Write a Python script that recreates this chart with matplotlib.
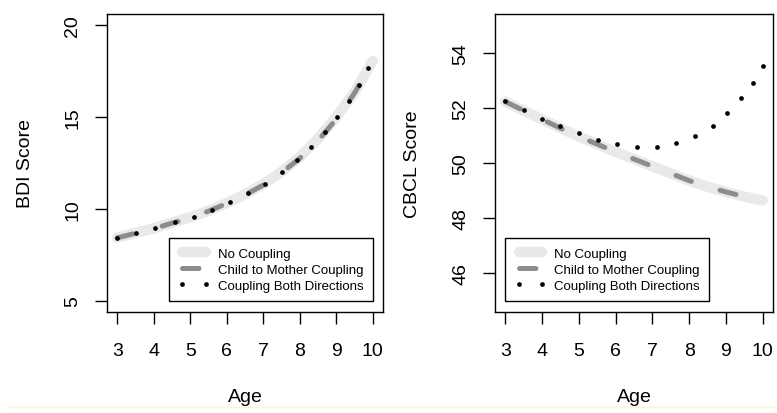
import matplotlib
matplotlib.use('Agg')
import matplotlib.pyplot as plt
from matplotlib.lines import Line2D

plt.rcParams['font.family'] = ['Liberation Sans', 'DejaVu Sans']

########### data ###########
age = [3, 3.5, 4, 4.5, 5, 5.5, 6, 6.5, 7, 7.5, 8, 8.5, 9, 9.5, 10]

bdi_none = [8.45, 8.70, 8.95, 9.25, 9.55, 9.90, 10.32, 10.80, 11.35, 12.02, 12.82, 13.82, 15.00, 16.35, 18.05]
bdi_child = [8.43, 8.68, 8.93, 9.23, 9.52, 9.88, 10.30, 10.76, 11.30, 11.97, 12.75, 13.72, 14.88, 16.30, 18.00]

cbcl_none = [52.22, 51.90, 51.58, 51.26, 50.96, 50.68, 50.40, 50.14, 49.88, 49.62, 49.36, 49.14, 48.95, 48.78, 48.64]
cbcl_child = [52.22, 51.90, 51.58, 51.26, 50.96, 50.68, 50.40, 50.14, 49.88, 49.62, 49.36, 49.14, 48.95, 48.78, 48.64]

# dotted series: the dots as they sit in the picture
bdi_both_age = [3.0, 3.51, 4.04, 4.57, 5.09, 5.60, 6.10, 6.58, 7.06, 7.51, 7.93, 8.31, 8.69, 9.03, 9.34, 9.63, 9.88]
bdi_both = [8.43, 8.69, 8.96, 9.27, 9.58, 9.96, 10.38, 10.85, 11.38, 12.0, 12.65, 13.38, 14.16, 14.98, 15.85, 16.74, 17.69]

cbcl_both_age = [3.0, 3.51, 4.0, 4.5, 5.0, 5.51, 6.05, 6.58, 7.13, 7.65, 8.16, 8.64, 9.04, 9.40, 9.73, 10.0]
cbcl_both = [52.24, 51.93, 51.61, 51.33, 51.07, 50.84, 50.68, 50.57, 50.59, 50.72, 50.98, 51.35, 51.81, 52.34, 52.90, 53.50]

labels = ['No Coupling', 'Child to Mother Coupling', 'Coupling Both Directions']
xticks = [3, 4, 5, 6, 7, 8, 9, 10]

########### styles ###########
st_none = dict(color='#e9e9e9', lw=7.5, solid_capstyle='round')
st_child = dict(color='#8c8c8c', lw=3.6, dashes=(3.3, 6.0), dash_capstyle='round')
st_both = dict(color='black', ls='none', marker='o', ms=3.4, mec='none')

fig = plt.figure(figsize=(7.77, 4.14), dpi=100)
ax1 = fig.add_axes([0.1377, 0.2440, 0.3552, 0.7198])
ax2 = fig.add_axes([0.6371, 0.2440, 0.3578, 0.7198])


def panel(ax, none, child, both_x, both, ylim, yticks, ylabel, legx, legy, legloc):
    ax.plot(age, none, **st_none)
    ax.plot(age, child, **st_child)
    ax.plot(both_x, both, **st_both)
    ax.set_xlim(2.72, 10.28)
    ax.set_ylim(*ylim)
    ax.set_xticks(xticks)
    ax.set_yticks(yticks)
    ax.tick_params(direction='out', length=8.6, width=1, labelsize=14)
    ax.tick_params(axis='x', pad=13)
    ax.tick_params(axis='y', pad=10, labelrotation=90)
    for t in ax.get_yticklabels():
        t.set_va('center')
    for s in ax.spines.values():
        s.set_linewidth(1)
    ax.set_xlabel('Age', fontsize=14)
    ax.set_ylabel(ylabel, fontsize=14)
    ax.xaxis.set_label_coords(0.5, -0.282)
    ax.xaxis.label.set_va('center')
    ax.yaxis.set_label_coords(-0.296, 0.5)
    ax.yaxis.label.set_va('center')
    handles = [Line2D([], [], **st_none), Line2D([], [], **st_child), Line2D([], [], **st_both)]
    leg = ax.legend(handles, labels, loc=legloc, bbox_to_anchor=(legx, legy),
                    bbox_transform=ax.transData, borderaxespad=0, fontsize=9.5,
                    frameon=True, fancybox=False, framealpha=1, edgecolor='black',
                    handlelength=2.4, handletextpad=0.6, labelspacing=0.28,
                    borderpad=0.7, numpoints=2)
    leg.get_frame().set_linewidth(1)


panel(ax1, bdi_none, bdi_child, bdi_both_age, bdi_both, (4.4, 20.6), [5, 10, 15, 20],
      'BDI Score', 10, 5, 'lower right')
panel(ax2, cbcl_none, cbcl_child, cbcl_both_age, cbcl_both, (44.6, 55.4), [46, 48, 50, 52, 54],
      'CBCL Score', 3, 45, 'lower left')

# faint yellow line at the bottom of the scan
fig.add_artist(Line2D([8 / 777, 1], [1 - 408 / 414] * 2, transform=fig.transFigure, color='#fdf8c8', lw=1))

fig.savefig('out.png', dpi=100)
